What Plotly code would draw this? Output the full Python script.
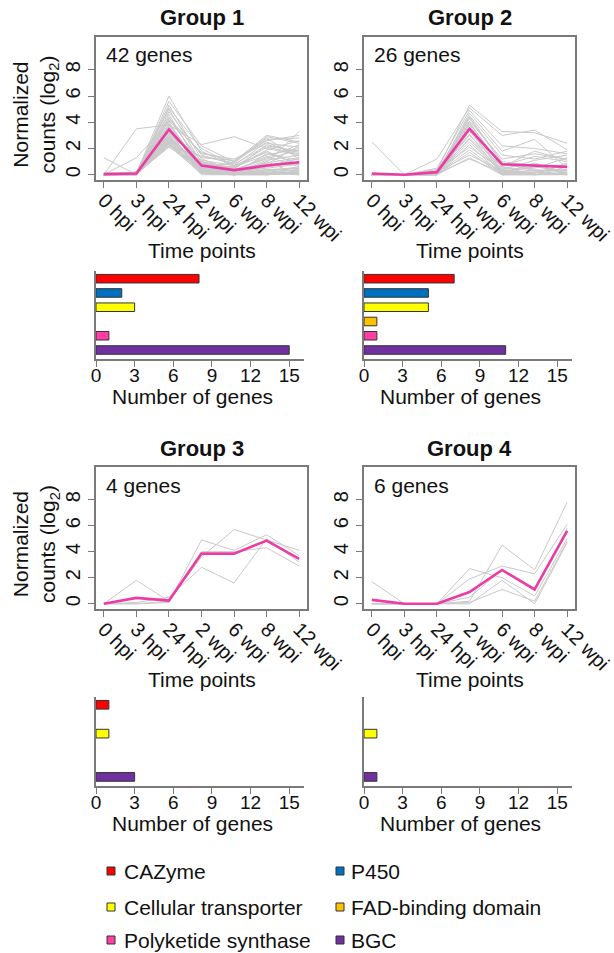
import plotly.graph_objects as go

# ---------------- data ----------------
time_labels = ["0 hpi", "3 hpi", "24 hpi", "2 wpi", "6 wpi", "8 wpi", "12 wpi"]
group_titles = ["Group 1", "Group 2", "Group 3", "Group 4"]
gene_count_labels = ["42 genes", "26 genes", "4 genes", "6 genes"]

group1_genes = [
    [0.0, 0.1, 6.0, 1.8, 0.6, 1.5, 2.0],
    [0.0, 0.0, 5.6, 2.2, 1.0, 2.8, 1.2],
    [0.1, 0.1, 5.3, 1.2, 0.3, 0.9, 3.3],
    [0.0, 0.2, 5.0, 0.9, 0.1, 0.4, 0.5],
    [0.0, 0.0, 4.8, 1.5, 0.8, 2.2, 1.8],
    [0.1, 0.1, 4.6, 0.4, 0.0, 0.2, 0.1],
    [0.0, 0.1, 4.4, 0.7, 0.5, 1.9, 2.6],
    [0.0, 3.5, 3.8, 2.3, 2.9, 2.0, 1.5],
    [1.3, 0.0, 4.2, 1.0, 0.2, 0.6, 0.9],
    [0.0, 1.3, 4.0, 0.3, 0.1, 0.0, 0.3],
    [0.0, 0.1, 3.9, 0.6, 0.9, 2.9, 2.4],
    [0.1, 0.1, 3.7, 0.2, 0.0, 0.3, 0.6],
    [0.0, 0.0, 3.6, 0.8, 0.4, 1.2, 1.9],
    [0.0, 0.2, 3.5, 0.5, 0.2, 0.1, 0.0],
    [0.0, 0.1, 3.4, 1.1, 0.7, 2.5, 1.4],
    [0.1, 0.0, 3.3, 0.1, 0.0, 0.2, 0.4],
    [0.0, 0.1, 3.2, 0.9, 0.3, 0.8, 2.2],
    [0.0, 0.0, 3.1, 0.4, 0.1, 1.6, 1.1],
    [0.0, 0.1, 3.0, 0.2, 0.0, 0.0, 0.2],
    [0.0, 0.2, 3.0, 1.3, 1.1, 2.6, 3.0],
    [0.1, 0.1, 2.9, 0.6, 0.2, 0.5, 0.8],
    [0.0, 0.0, 2.8, 0.3, 0.1, 1.0, 0.0],
    [0.0, 0.1, 2.8, 0.8, 0.6, 2.1, 1.6],
    [0.0, 0.1, 2.7, 0.1, 0.0, 0.3, 0.5],
    [0.0, 0.0, 2.7, 0.5, 0.3, 1.3, 2.3],
    [0.1, 0.2, 2.6, 0.2, 0.1, 0.1, 0.2],
    [0.0, 0.1, 2.6, 1.0, 0.5, 1.8, 0.7],
    [0.0, 0.0, 2.5, 0.4, 0.0, 0.6, 1.0],
    [0.0, 0.1, 2.5, 0.7, 0.4, 2.3, 1.7],
    [0.0, 0.1, 2.4, 0.0, 0.0, 0.0, 0.1],
    [0.1, 0.0, 2.4, 0.3, 0.2, 0.9, 1.3],
    [0.0, 0.1, 2.3, 0.6, 0.3, 1.4, 0.6],
    [0.0, 0.2, 2.3, 0.2, 0.1, 0.2, 0.0],
    [0.0, 0.0, 2.2, 1.4, 0.9, 2.7, 2.8],
    [0.0, 0.1, 2.2, 0.1, 0.0, 0.4, 0.3],
    [0.1, 0.1, 2.1, 0.5, 0.2, 1.1, 1.5],
    [0.0, 0.0, 4.3, 1.6, 1.2, 2.4, 2.1],
    [0.0, 0.1, 5.1, 2.0, 0.7, 1.7, 0.8],
    [0.0, 0.1, 3.3, 0.9, 0.5, 0.0, 0.2],
    [0.0, 0.0, 2.9, 0.3, 0.1, 0.7, 1.2],
    [0.1, 0.1, 4.1, 1.7, 1.0, 3.0, 2.5],
    [0.0, 0.1, 3.8, 0.5, 0.2, 0.1, 0.4],
]
group1_mean = [0.05, 0.1, 3.45, 0.7, 0.35, 0.7, 0.95]

group2_genes = [
    [2.5, 0.0, 0.3, 5.3, 3.3, 3.2, 2.4],
    [0.0, 0.0, 1.2, 5.1, 3.0, 3.4, 1.9],
    [0.0, 0.0, 0.5, 4.9, 2.2, 2.0, 1.6],
    [0.1, 0.0, 0.1, 4.7, 1.8, 2.7, 0.5],
    [0.0, 0.0, 0.2, 4.5, 1.5, 1.2, 1.8],
    [0.0, 0.0, 0.0, 4.3, 0.9, 0.3, 0.0],
    [0.0, 0.0, 0.3, 4.1, 1.2, 1.6, 1.2],
    [0.0, 0.0, 0.1, 4.0, 0.5, 0.8, 0.1],
    [0.0, 0.0, 0.0, 3.8, 0.2, 0.0, 0.6],
    [0.0, 0.0, 0.4, 3.6, 0.7, 1.4, 1.0],
    [0.0, 0.0, 0.1, 3.5, 0.1, 0.2, 0.0],
    [0.0, 0.0, 0.0, 3.3, 0.4, 0.6, 0.3],
    [0.0, 0.0, 0.2, 3.1, 0.0, 0.1, 0.8],
    [0.0, 0.0, 0.1, 3.0, 0.6, 0.0, 0.2],
    [0.0, 0.0, 0.0, 2.8, 0.3, 0.5, 1.3],
    [0.0, 0.0, 0.2, 2.7, 0.1, 0.9, 0.0],
    [0.0, 0.0, 0.1, 2.5, 0.2, 0.3, 0.4],
    [0.0, 0.0, 0.0, 2.3, 0.0, 0.0, 0.1],
    [0.0, 0.0, 0.3, 2.1, 0.4, 1.1, 1.5],
    [0.0, 0.0, 0.1, 1.9, 0.1, 0.2, 0.0],
    [0.0, 0.0, 0.0, 1.7, 0.0, 0.4, 0.2],
    [0.0, 0.0, 0.2, 1.5, 0.3, 0.1, 0.9],
    [0.0, 0.0, 0.0, 1.3, 0.0, 0.0, 0.0],
    [0.0, 0.0, 0.1, 1.2, 0.2, 0.6, 0.3],
    [0.0, 0.0, 0.0, 4.4, 1.0, 0.7, 0.1],
    [0.0, 0.0, 0.2, 3.9, 0.6, 1.8, 1.1],
]
group2_mean = [0.1, 0.0, 0.2, 3.5, 0.8, 0.7, 0.6]

group3_genes = [
    [0.0, 0.0, 0.1, 4.9, 4.1, 5.3, 3.7],
    [0.0, 1.8, 0.2, 3.6, 5.7, 4.9, 4.1],
    [0.0, 0.1, 0.5, 2.8, 1.6, 5.0, 3.2],
    [0.0, 0.0, 0.2, 4.0, 4.0, 4.3, 2.9],
]
group3_mean = [0.0, 0.45, 0.25, 3.85, 3.85, 4.85, 3.45]

group4_genes = [
    [1.7, 0.0, 0.0, 0.1, 1.1, 0.2, 4.8],
    [0.0, 0.0, 0.0, 2.7, 2.0, 0.6, 5.0],
    [0.0, 0.0, 0.0, 0.2, 4.5, 2.6, 7.8],
    [0.0, 0.0, 0.0, 1.9, 2.9, 2.3, 6.1],
    [0.0, 0.0, 0.0, 0.5, 2.6, 1.0, 5.8],
    [0.0, 0.0, 0.0, 0.0, 1.8, 0.0, 4.7],
]
group4_mean = [0.3, 0.0, 0.0, 0.9, 2.6, 1.1, 5.6]

categories = ["CAZyme", "P450", "Cellular transporter",
              "FAD-binding domain", "Polyketide synthase", "BGC"]
category_colors = ["#FF0000", "#0070C0", "#FFFF00", "#FFC000", "#FF3FA4", "#7030A0"]
group1_counts = [8, 2, 3, 0, 1, 15]
group2_counts = [7, 5, 5, 1, 1, 11]
group3_counts = [1, 0, 1, 0, 0, 3]
group4_counts = [0, 0, 1, 0, 0, 1]
count_ticks = [0, 3, 6, 9, 12, 15]

# ---------------- layout helpers ----------------
W, H = 614, 953
FONT = "Liberation Sans, Arial, sans-serif"
AX = "#7a7a7a"
GRAY = "#c9c9c9"
MAG = "#EC3BA6"


def px_x(a, b):
    return [a / W, b / W]


def px_y(top, bottom):
    return [1 - bottom / H, 1 - top / H]


line_boxes = [(96, 307, 37, 180), (364, 575, 37, 180),
              (96, 307, 467, 609), (364, 575, 467, 609)]
bar_boxes = [(96, 304, 271, 359), (364, 572, 271, 359),
             (96, 304, 697, 786), (364, 572, 697, 786)]

all_genes = [group1_genes, group2_genes, group3_genes, group4_genes]
all_means = [group1_mean, group2_mean, group3_mean, group4_mean]
all_counts = [group1_counts, group2_counts, group3_counts, group4_counts]

fig = go.Figure()
layout = dict(
    width=W, height=H, autosize=False, margin=dict(l=0, r=0, t=0, b=0, autoexpand=False),
    paper_bgcolor="white", plot_bgcolor="white",
    showlegend=False, font=dict(family=FONT, color="#111", size=20),
)
annotations = []
shapes = []

xidx = list(range(len(time_labels)))

for g in range(4):
    li = 2 * g + 1
    bi = 2 * g + 2
    xa = "x" if li == 1 else f"x{li}"
    ya = "y" if li == 1 else f"y{li}"
    xb, yb = f"x{bi}", f"y{bi}"

    for gene in all_genes[g]:
        fig.add_trace(go.Scatter(x=xidx, y=gene, mode="lines",
                                 line=dict(color=GRAY, width=1),
                                 xaxis=xa, yaxis=ya, hoverinfo="skip"))
    fig.add_trace(go.Scatter(x=xidx, y=all_means[g], mode="lines",
                             line=dict(color=MAG, width=2.6),
                             xaxis=xa, yaxis=ya))

    counts = all_counts[g]
    fig.add_trace(go.Bar(
        x=counts, y=list(range(len(categories))), orientation="h",
        width=0.6,
        marker=dict(color=category_colors,
                    line=dict(color="#333333",
                              width=[1 if v > 0 else 0 for v in counts])),
        xaxis=xb, yaxis=yb))

    l, r, t, b = line_boxes[g]
    layout[f"xaxis{li if li > 1 else ''}"] = dict(
        domain=px_x(l, r), anchor=ya, range=[-0.24, 6.24], automargin=False,
        tickvals=xidx, ticktext=time_labels, tickangle=45,
        ticks="outside", ticklen=6, tickcolor=AX, tickwidth=1.2,
        ticklabelstandoff=-7,
        showline=True, linecolor=AX, linewidth=1.5, mirror=True,
        showgrid=False, zeroline=False, tickfont=dict(size=20))
    layout[f"yaxis{li if li > 1 else ''}"] = dict(
        domain=px_y(t, b), anchor=xa, range=[-0.4, 10.5], automargin=False,
        tickvals=[0, 2, 4, 6, 8], tickangle=-90,
        ticks="outside", ticklen=6, tickcolor=AX, tickwidth=1.2,
        showline=True, linecolor=AX, linewidth=1.5, mirror=True,
        showgrid=False, zeroline=False, tickfont=dict(size=20))

    bl, br, bt, bb = bar_boxes[g]
    layout[f"xaxis{bi}"] = dict(
        domain=px_x(bl, br), anchor=yb, range=[0, 16.15], automargin=False,
        tickvals=count_ticks, ticks="outside", ticklen=6,
        tickcolor=AX, tickwidth=1.2, showline=True, linecolor=AX,
        ticklabelstandoff=-8,
        linewidth=1.5, showgrid=False, zeroline=False,
        tickfont=dict(size=19))
    layout[f"yaxis{bi}"] = dict(
        domain=px_y(bt, bb), anchor=xb, range=[5.63, -0.54], automargin=False,
        showticklabels=False, ticks="", showline=True, linecolor=AX,
        linewidth=1.5, showgrid=False, zeroline=False)

    # texts
    annotations.append(dict(text=f"<b>{group_titles[g]}</b>", x=(l + r) / 2 / W,
                            y=1 - (t - 19) / H, xref="paper", yref="paper",
                            showarrow=False, font=dict(size=22),
                            xanchor="center", yanchor="middle"))
    annotations.append(dict(text=gene_count_labels[g], x=(l + 8) / W,
                            y=1 - (t + 18) / H, xref="paper", yref="paper",
                            showarrow=False, font=dict(size=21),
                            xanchor="left", yanchor="middle"))
    annotations.append(dict(text="Time points", x=(l + r) / 2 / W,
                            y=1 - (b + 70) / H, xref="paper", yref="paper",
                            showarrow=False, font=dict(size=21),
                            xanchor="center", yanchor="middle"))
    annotations.append(dict(text="Number of genes", x=(bl + 96.5) / W,
                            y=1 - (bb + 37.5) / H, xref="paper", yref="paper",
                            showarrow=False, font=dict(size=21),
                            xanchor="center", yanchor="middle"))
    if g in (0, 2):
        annotations.append(dict(text="Normalized<br>counts (log<sub>2</sub>)",
                                x=36 / W, y=1 - ((t + b) / 2 + 6) / H,
                                xref="paper", yref="paper", showarrow=False,
                                textangle=-90, font=dict(size=21),
                                xanchor="center", yanchor="middle"))

# legend (manual, two columns)
leg_cols = [(111, 122), (340, 349)]
leg_rows = [871, 907, 940]
for i, (name, col) in enumerate(zip(categories, category_colors)):
    cx, tx = leg_cols[i % 2]
    cy = leg_rows[i // 2]
    shapes.append(dict(type="rect", xref="paper", yref="paper",
                       x0=(cx - 4) / W, x1=(cx + 4) / W,
                       y0=1 - (cy + 4) / H, y1=1 - (cy - 4) / H,
                       fillcolor=col, line=dict(color="#333333", width=1)))
    annotations.append(dict(text=name, x=tx / W, y=1 - cy / H,
                            xref="paper", yref="paper", showarrow=False,
                            font=dict(size=21), xanchor="left",
                            yanchor="middle"))

layout["annotations"] = annotations
layout["shapes"] = shapes
fig.update_layout(**layout)
fig.write_html(
    "out.html",
    config={"responsive": False, "displayModeBar": False},
    post_script="document.body.style.margin='0';document.body.style.padding='0';"
                "document.documentElement.style.overflow='hidden';",
)
